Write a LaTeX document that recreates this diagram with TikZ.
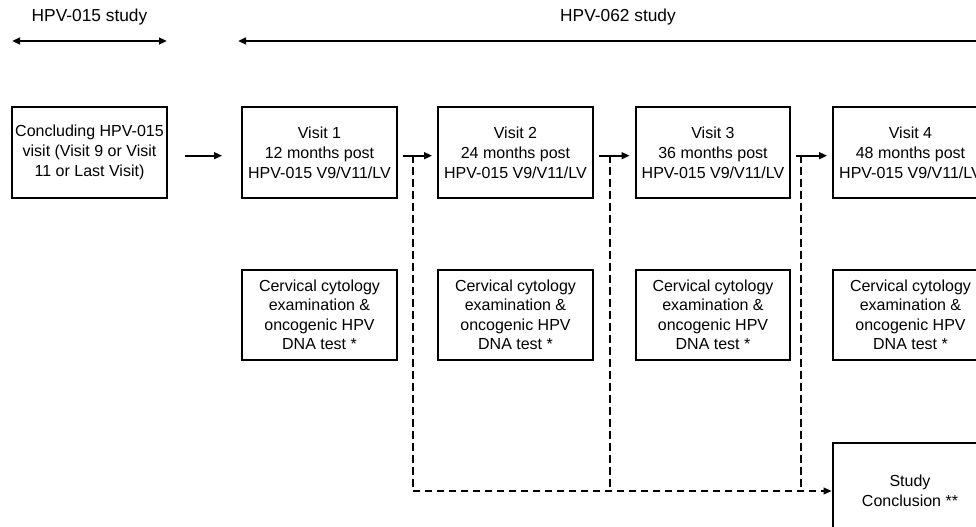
\documentclass[tikz,border=0pt]{standalone}
\usepackage{fontspec}
\setmainfont{Liberation Sans}
\usetikzlibrary{arrows.meta,calc}
\begin{document}
\begin{tikzpicture}[x=0.75pt,y=-0.75pt,
  box/.style={draw, line width=1.5pt, minimum width=116pt, minimum height=68pt,
    align=center, inner sep=0pt, font=\fontsize{12pt}{15pt}\selectfont},
  cytobox/.style={box, minimum height=67.5pt, font=\fontsize{12pt}{14.6pt}\selectfont},
  tip/.tip={Triangle[length=6pt,width=5pt]},
  arr/.style={line width=1.5pt, -tip},
  darr/.style={line width=1.2pt, dash pattern=on 5.5pt off 3.5pt},
  hdr/.style={font=\fontsize{13pt}{15pt}\selectfont}]

\useasboundingbox (0,0) rectangle (976,527);
\clip (0,0) rectangle (976,527);

% study periods
\node[hdr] (h15) at (89.5,17) {HPV-015 study};
\node[hdr] (h62) at (618,17) {HPV-062 study};
\coordinate (s15a) at (12,41);
\coordinate (s15b) at (167,41);
\coordinate (s62a) at (238,41);
\coordinate (s62b) at (998,41);
\draw[line width=1.5pt, tip-tip] (s15a) -- (s15b);
\draw[line width=1.5pt, tip-tip] (s62a) -- (s62b);

% visits
\node[box] (conc) at (89.5,152.5) {Concluding HPV-015\\visit (Visit 9 or Visit\\11 or Last Visit)};
\node[box] (v1) at (319.5,152.5) {Visit 1\\12 months post\\HPV-015 V9/V11/LV};
\node[box] (v2) at (515.5,152.5) {Visit 2\\24 months post\\HPV-015 V9/V11/LV};
\node[box] (v3) at (713,152.5) {Visit 3\\36 months post\\HPV-015 V9/V11/LV};
\node[box] (v4) at (910.5,152.5) {Visit 4\\48 months post\\HPV-015 V9/V11/LV};

% examinations
\node[cytobox] (c1) at (319.5,315) {Cervical cytology\\examination \&\\oncogenic HPV\\DNA test *};
\node[cytobox] (c2) at (515.5,315) {Cervical cytology\\examination \&\\oncogenic HPV\\DNA test *};
\node[cytobox] (c3) at (713,315) {Cervical cytology\\examination \&\\oncogenic HPV\\DNA test *};
\node[cytobox] (c4) at (910.5,315) {Cervical cytology\\examination \&\\oncogenic HPV\\DNA test *};

% conclusion
\node[box, minimum height=72pt] (fin) at (910,491) {Study\\Conclusion **};

% visit sequence
\draw[arr, shorten <=12.75pt, shorten >=14.25pt]
  ([yshift=-2.4pt]conc.east) -- ([yshift=-2.4pt]v1.west);
\draw[arr, shorten <=3.75pt, shorten >=3.75pt]
  ([yshift=-2.4pt]v1.east) -- ([yshift=-2.4pt]v2.west);
\draw[arr, shorten <=3.75pt, shorten >=3.75pt]
  ([yshift=-2.4pt]v2.east) -- ([yshift=-2.4pt]v3.west);
\draw[arr, shorten <=3.75pt, shorten >=3.75pt]
  ([yshift=-2.4pt]v3.east) -- ([yshift=-2.4pt]v4.west);

% early conclusion paths
\coordinate (j1) at (413,155.5);
\coordinate (j2) at (610,155.5);
\coordinate (j3) at (801,155.5);
\coordinate (b1) at (j1 |- fin.west);
\coordinate (b2) at (j2 |- fin.west);
\coordinate (b3) at (j3 |- fin.west);
\draw[darr] (j1) -- (b1);
\draw[darr] (j2) -- (b2);
\draw[darr] (j3) -- (b3);
\draw[darr, -tip] (b1) -- (fin.west);
\end{tikzpicture}
\end{document}
